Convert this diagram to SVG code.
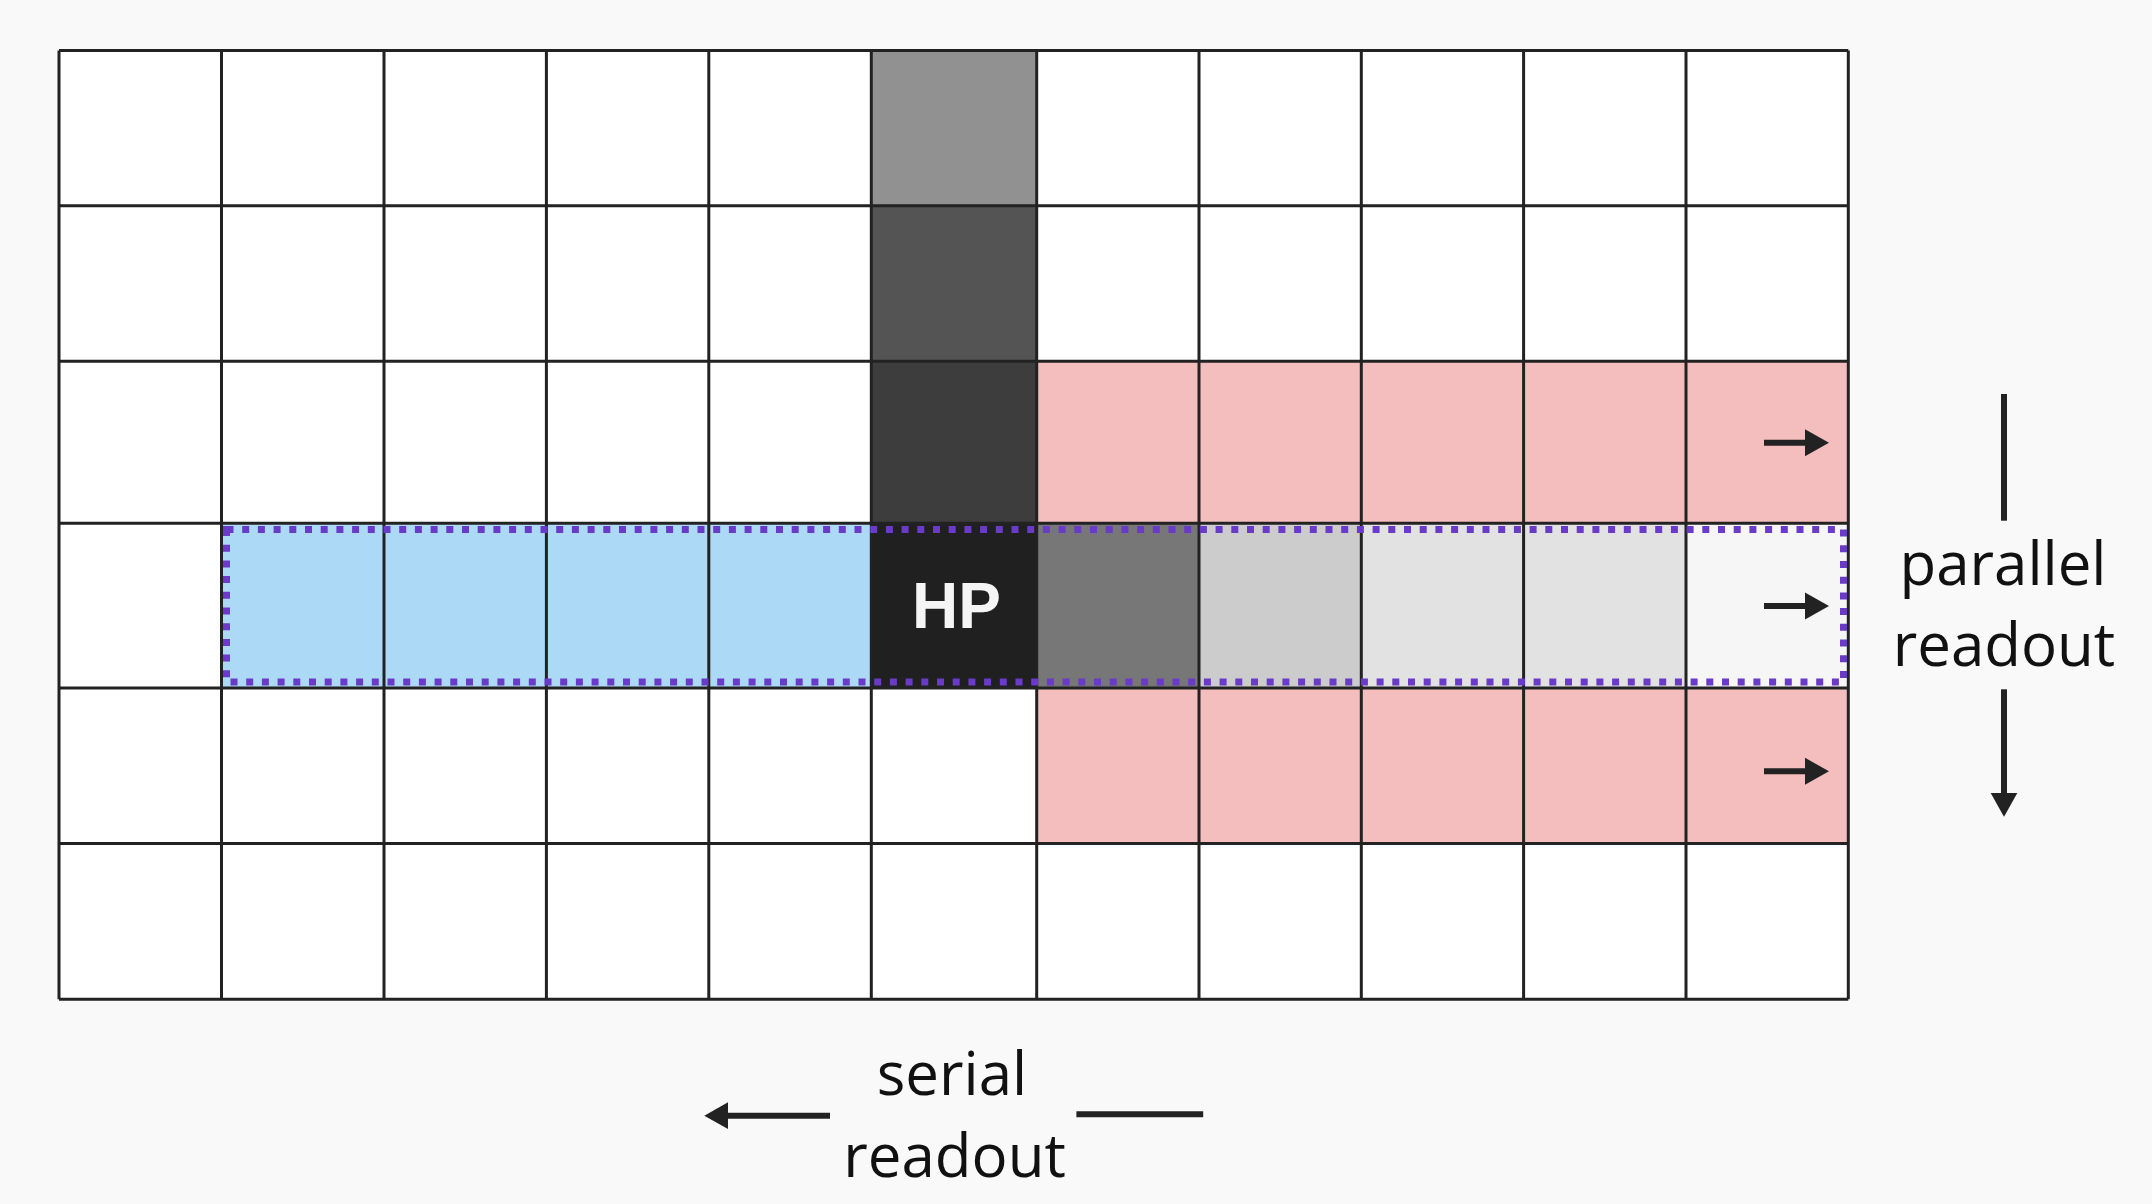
<svg xmlns="http://www.w3.org/2000/svg" width="2152" height="1204" viewBox="0 0 2152 1204">
<style>
.cell{stroke:none}
.grid{fill:none;stroke:#222;stroke-width:3}
.arr{stroke:#222;stroke-width:6;fill:none}
.lbl{font-family:"Open Sans","Liberation Sans",sans-serif;fill:#111;text-anchor:middle;font-size:60px}
.hp{font-family:"Liberation Sans",Arial,sans-serif;font-weight:bold;font-size:64px;fill:#f5f5f5;text-anchor:middle}
</style>
<defs>
<marker id="ah" markerUnits="userSpaceOnUse" markerWidth="24" markerHeight="28" refX="4" refY="13.5" orient="auto" viewBox="0 0 24 27">
<path d="M0,0 L24,13.5 L0,27 z" fill="#222"/>
</marker>
</defs>
<rect width="2152" height="1204" fill="#f9f9f9"/>
<g id="ccd">
<rect id="grid-bg" x="59" y="50.5" width="1789.3" height="948.8" fill="#fff"/>
<rect id="col-r0" class="cell" x="871.3" y="50.5" width="165.4" height="155.2" fill="#919191"/>
<rect id="col-r1" class="cell" x="871.3" y="205.7" width="165.4" height="155.6" fill="#545454"/>
<rect id="col-r2" class="cell" x="871.3" y="361.3" width="165.4" height="162" fill="#3d3d3d"/>
<rect id="serial-blue" class="cell" x="221.5" y="523.3" width="649.8" height="164.7" fill="#acdaf6"/>
<rect id="row-c6" class="cell" x="1036.7" y="523.3" width="162.3" height="164.7" fill="#777777"/>
<rect id="row-c7" class="cell" x="1199" y="523.3" width="162.3" height="164.7" fill="#cccccc"/>
<rect id="row-c8" class="cell" x="1361.3" y="523.3" width="324.7" height="164.7" fill="#e2e2e2"/>
<rect id="row-c10" class="cell" x="1686" y="523.3" width="162.3" height="164.7" fill="#f6f6f6"/>
<rect id="pink-upper" class="cell" x="1036.7" y="361.3" width="811.6" height="162" fill="#f4bebe"/>
<rect id="pink-lower" class="cell" x="1036.7" y="688" width="811.6" height="155.6" fill="#f4bebe"/>
<g id="hp-pixel">
<rect class="cell" x="871.3" y="523.3" width="165.4" height="164.7" fill="#202020"/>
<text class="hp" x="956.5" y="628">HP</text>
</g>
<path id="grid-lines" class="grid" d="M59,50.5V999.3M221.5,50.5V999.3M384,50.5V999.3M546.4,50.5V999.3M708.8,50.5V999.3M871.3,50.5V999.3M1036.7,50.5V999.3M1199,50.5V999.3M1361.3,50.5V999.3M1523.6,50.5V999.3M1686,50.5V999.3M1848.3,50.5V999.3M59,50.5H1848.3M59,205.7H1848.3M59,361.3H1848.3M59,523.3H1848.3M59,688H1848.3M59,843.6H1848.3M59,999.3H1848.3"/>
<rect id="serial-register" x="226.5" y="529.5" width="1617" height="152.5" fill="none" stroke="#6a3bc8" stroke-width="7" stroke-dasharray="7 8.7"/>
</g>
<g id="connectors">
<line class="arr" x1="1764" y1="442.7" x2="1809" y2="442.7" marker-end="url(#ah)"/>
<line class="arr" x1="1764" y1="606" x2="1809" y2="606" marker-end="url(#ah)"/>
<line class="arr" x1="1764" y1="771.3" x2="1809" y2="771.3" marker-end="url(#ah)"/>
<line class="arr" x1="2004" y1="394" x2="2004" y2="520.7"/>
<line class="arr" x1="2004" y1="689.3" x2="2004" y2="796.7" marker-end="url(#ah)"/>
<line class="arr" x1="830" y1="1115.7" x2="724.3" y2="1115.7" marker-end="url(#ah)"/>
<line class="arr" x1="1076.4" y1="1114.3" x2="1203.2" y2="1114.3"/>
</g>
<g id="parallel-label">
<text class="lbl" x="2003" y="585">parallel</text>
<text class="lbl" x="2004" y="666">readout</text>
</g>
<g id="serial-label">
<text class="lbl" x="952" y="1095">serial</text>
<text class="lbl" x="954.6" y="1176.7">readout</text>
</g>
</svg>
